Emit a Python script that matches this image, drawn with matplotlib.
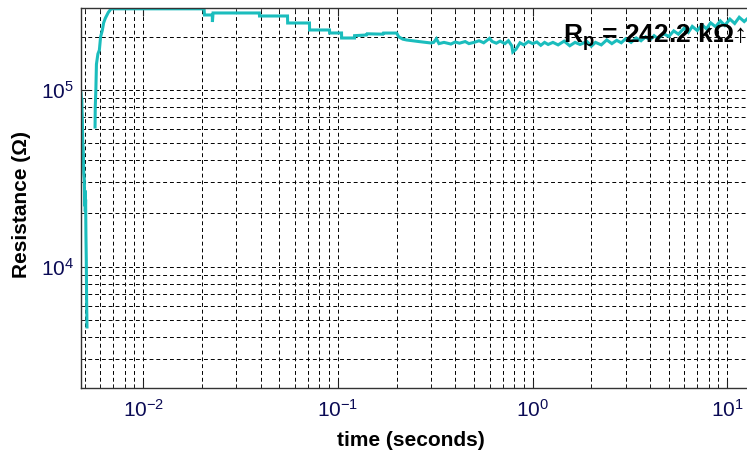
import numpy as np
import matplotlib
matplotlib.use('Agg')
import matplotlib.pyplot as plt
from matplotlib.ticker import LogLocator, NullFormatter

plt.rcParams['font.family'] = ['Liberation Sans', 'DejaVu Sans']
plt.rcParams['axes.unicode_minus'] = False
plt.rcParams['mathtext.fontset'] = 'custom'
plt.rcParams['mathtext.rm'] = 'Liberation Sans:bold'
plt.rcParams['mathtext.default'] = 'regular'

# время (с) и сопротивление (Ом)
t_data = [
    0.004782, 0.00481, 0.004827, 0.00484, 0.004856, 0.00488, 0.004913, 0.00494,
    0.004973, 0.00500, 0.00502, 0.005032, 0.00505, 0.00507, 0.005091, 0.00511,
    0.005134, np.nan,
    0.005647, 0.00566, 0.005701, 0.00574, 0.005782, 0.00584, 0.005941, 0.00603,
    0.006155, 0.00625, 0.006378, 0.006606, 0.006823, 0.0100, 0.0205,
    0.0206, 0.0226, 0.02263, 0.0228, 0.0394, 0.0395, 0.0550, 0.0551, 0.0713,
    0.0714, 0.0904, 0.0905, 0.1042, 0.1043, 0.1215, 0.1216, 0.140, 0.141,
    0.170, 0.171, 0.200, 0.205, 0.215, 0.225, 0.26, 0.30,
    0.31, 0.32, 0.33, 0.35, 0.38, 0.40, 0.42, 0.45, 0.47, 0.50, 0.53, 0.56,
    0.60, 0.62, 0.65, 0.68, 0.72, 0.75, 0.78, 0.79, 0.82, 0.86, 0.90, 0.95,
    1.00, 1.05, 1.10, 1.15, 1.20, 1.27, 1.35, 1.45, 1.55, 1.65, 1.75, 1.90,
    2.00, 2.10, 2.25, 2.40, 2.55, 2.70, 2.85, 3.00, 3.20, 3.40, 3.60, 3.80,
    4.00, 4.20, 4.40, 4.70, 5.00, 5.30, 5.60, 6.00, 6.30, 6.60, 7.00, 7.40,
    7.80, 8.20, 8.70, 9.20, 9.70, 10.3, 10.9, 11.5, 12.2, 12.8,
]
r_data = [
    96000, 88000, 90000, 77000, 70000, 52000, 45000, 34000,
    31000, 22000, 27000, 20500, 24000, 15000, 10900, 6500,
    4560, np.nan,
    61700, 80000, 100000, 140000, 148000, 160000, 168000, 200000,
    218000, 240000, 255000, 275000, 288000, 288000, 288000,
    265800, 265800, 242600, 272800, 272800, 262300, 262300, 239400, 239400,
    218600, 218600, 210200, 210200, 196900, 196900, 203000, 204800, 208000,
    207000, 210000, 210000, 200000, 194000, 191900, 188000, 184500,
    186000, 195000, 183000, 186000, 182000, 187000, 184000, 188000, 183000, 186000, 190000, 185000,
    196000, 188000, 184000, 189000, 183000, 190000, 178000, 164000, 170000, 185000, 180000, 188000,
    183000, 187000, 179000, 186000, 181000, 186000, 180000, 189000, 178000, 186000, 181000, 188000,
    177000, 186000, 180000, 192000, 183000, 191000, 185000, 195000, 186000, 197000, 190000, 200000,
    192000, 203000, 195000, 208000, 201000, 216000, 207000, 224000, 212000, 229000, 217000, 234000,
    222000, 240000, 228000, 246000, 232000, 252000, 238000, 258000, 244000, 256000,
]

x_lim = (0.004782, 23.6)
y_lim = (2058, 291100)
rp_label = r'R$_{p}$ = 242.2 kΩ↑'


def run():
    fig = plt.figure(figsize=(7.47, 4.53), dpi=100)
    ax = fig.add_axes([81 / 747, 1 - 388 / 453, (800 - 81) / 747, 380 / 453])

    ax.loglog(t_data, r_data, color='#1bbdbd', linewidth=2.2, solid_joinstyle='miter')
    ax.set_xlim(*x_lim)
    ax.set_ylim(*y_lim)

    ax.xaxis.set_major_locator(LogLocator(base=10, numticks=10))
    ax.xaxis.set_minor_locator(LogLocator(base=10, subs=np.arange(2, 10), numticks=20))
    ax.yaxis.set_minor_locator(LogLocator(base=10, subs=np.arange(2, 10), numticks=20))
    ax.xaxis.set_minor_formatter(NullFormatter())
    ax.yaxis.set_minor_formatter(NullFormatter())

    ax.grid(True, which='both', color='black', linestyle=(0, (4, 3)), linewidth=0.7)
    ax.tick_params(which='both', direction='in', top=True, right=True,
                   colors='#222222', labelcolor='#0b0b55', labelsize=15)
    ax.tick_params(which='major', length=6, width=0.8)
    ax.tick_params(which='minor', length=3, width=0.6)
    ax.tick_params(axis='x', pad=8)
    ax.tick_params(axis='y', pad=5)
    for s in ax.spines.values():
        s.set_color('#333333')
        s.set_linewidth(1.0)

    fig.text(411 / 747, 1 - 440 / 453, 'time (seconds)', ha='center', va='center',
             fontsize=15, fontweight='bold')
    fig.text(22 / 747, 1 - 205 / 453, 'Resistance (Ω)', ha='center', va='center',
             rotation=90, fontsize=15, fontweight='bold')
    fig.text(563 / 747, 1 - 43 / 453, rp_label, ha='left', va='baseline',
             fontsize=19, fontweight='bold')

    fig.savefig('out.png', dpi=100)


run()
